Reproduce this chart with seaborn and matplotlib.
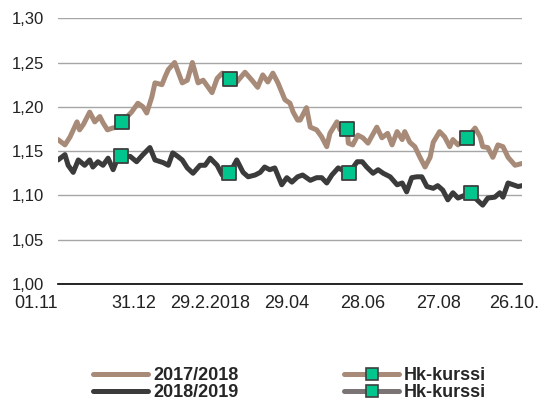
import numpy as np
import pandas as pd
import matplotlib
matplotlib.use("Agg")
import matplotlib.pyplot as plt
import seaborn as sns
from matplotlib.lines import Line2D
from matplotlib.ticker import FuncFormatter

# days from 01.11 and exchange rate readings
days_1718 = [0, 5.5, 9.5, 15, 17, 20, 25, 29, 33, 35.5, 39, 43, 46.5, 50.5, 58, 63, 67, 70,
             74, 76.5, 82, 84.5, 87, 92, 98, 102, 106, 110.5, 114.5, 121.5, 125.5, 129.5,
             135.5, 141, 147.5, 153, 157.5, 161.5, 165.5, 169.5, 173.5, 179, 183, 185.5,
             189, 191, 196, 199, 204, 208, 212, 214.5, 220, 222.5, 228, 229, 232.5, 236.5,
             240.5, 244.5, 251.5, 255.5, 260, 263.5, 267.5, 271.5, 273.5, 277.5, 281.5,
             285.5, 289.5, 293.5, 296, 301, 305, 309, 311.5, 315.5, 322.5, 329, 333, 335,
             339, 343, 347, 351, 355, 360.5, 366]
rate_1718 = [1.163, 1.157, 1.166, 1.183, 1.174, 1.180, 1.194, 1.183, 1.189, 1.182, 1.174,
             1.176, 1.177, 1.183, 1.194, 1.204, 1.200, 1.193, 1.211, 1.227, 1.225, 1.234,
             1.242, 1.250, 1.227, 1.230, 1.250, 1.227, 1.230, 1.216, 1.232, 1.238, 1.231,
             1.228, 1.239, 1.230, 1.222, 1.236, 1.228, 1.238, 1.227, 1.208, 1.204, 1.194,
             1.185, 1.185, 1.199, 1.177, 1.174, 1.166, 1.155, 1.170, 1.183, 1.174, 1.175,
             1.159, 1.157, 1.168, 1.165, 1.159, 1.177, 1.165, 1.170, 1.157, 1.172, 1.163,
             1.172, 1.160, 1.155, 1.143, 1.132, 1.143, 1.160, 1.172, 1.166, 1.155, 1.163,
             1.157, 1.165, 1.176, 1.166, 1.155, 1.154, 1.143, 1.157, 1.155, 1.143, 1.134,
             1.136]

days_1819 = [0, 5.5, 8, 12, 16, 21, 25, 27.5, 31.5, 35.5, 39.5, 43.5, 46.5, 49.5, 57, 62,
             67, 72.5, 76.5, 83, 87, 90.5, 94.5, 98, 102, 106.5, 112, 116, 120, 125.5,
             129.5, 135, 141, 146, 150, 155.5, 159.5, 163, 167, 171, 176.5, 180.5, 184.5,
             189, 193, 199, 204, 208, 212, 216, 221, 229.5, 236, 240, 243.5, 248.5, 252.5,
             256.5, 262, 267.5, 271.5, 275, 279, 283, 287, 291, 296, 299.5, 303.5, 307.5,
             311.5, 315.5, 325.5, 330.5, 335, 339, 344.5, 348.5, 351, 355, 359, 363, 366]
rate_1819 = [1.140, 1.146, 1.134, 1.126, 1.140, 1.134, 1.140, 1.132, 1.138, 1.134, 1.142,
             1.129, 1.140, 1.144, 1.144, 1.138, 1.146, 1.154, 1.140, 1.137, 1.134, 1.148,
             1.144, 1.140, 1.131, 1.125, 1.134, 1.134, 1.142, 1.134, 1.123, 1.124, 1.140,
             1.126, 1.121, 1.123, 1.126, 1.132, 1.129, 1.131, 1.112, 1.120, 1.115, 1.121,
             1.123, 1.117, 1.120, 1.120, 1.114, 1.123, 1.131, 1.125, 1.138, 1.138, 1.132,
             1.125, 1.129, 1.125, 1.121, 1.112, 1.114, 1.104, 1.120, 1.121, 1.121, 1.110,
             1.108, 1.111, 1.106, 1.095, 1.103, 1.097, 1.103, 1.095, 1.089, 1.097, 1.098,
             1.103, 1.098, 1.114, 1.112, 1.110, 1.111]

# Hk-kurssi points
hk_days_1718 = [50.5, 135.5, 228, 322.5]
hk_rate_1718 = [1.183, 1.231, 1.175, 1.165]
hk_days_1819 = [49.5, 135, 229.5, 325.5]
hk_rate_1819 = [1.144, 1.125, 1.125, 1.103]

tick_days = [0, 60, 120, 180, 240, 300, 360]
tick_labels = ["01.11", "31.12", "29.2.2018", "29.04", "28.06", "27.08", "26.10."]

brown = "#A88A78"
dark = "#3B3B3B"
green = "#00C58C"
gray_line = "#7A7474"

sns.set_style("white")
plt.rcParams['font.family'] = ['Liberation Sans', 'DejaVu Sans']

fig = plt.figure(figsize=(5.47, 4.03), dpi=100)
ax = fig.add_axes([58 / 547, 1 - 284 / 403, 464 / 547, (284 - 18.2) / 403])

df1 = pd.DataFrame({"day": days_1718, "rate": rate_1718})
df2 = pd.DataFrame({"day": days_1819, "rate": rate_1819})
sns.lineplot(data=df1, x="day", y="rate", ax=ax, color=brown, lw=3.6, solid_joinstyle="round")
sns.lineplot(data=df2, x="day", y="rate", ax=ax, color=dark, lw=3.6, solid_joinstyle="round")

hk1 = pd.DataFrame({"day": hk_days_1718, "rate": hk_rate_1718})
hk2 = pd.DataFrame({"day": hk_days_1819, "rate": hk_rate_1819})
for d in (hk1, hk2):
    sns.scatterplot(data=d, x="day", y="rate", ax=ax, marker="s", s=110, color=green,
                    edgecolor="#3F3F3F", linewidth=1.3, zorder=5)

ax.set_xlim(0, 366)
ax.set_ylim(1.00, 1.30)
ax.set_yticks(np.arange(1.00, 1.31, 0.05))
ax.yaxis.set_major_formatter(FuncFormatter(lambda v, p: f"{v:.2f}".replace(".", ",")))
ax.set_xticks(tick_days)
ax.set_xticklabels(tick_labels)
ax.get_xticklabels()[0].set_ha("right")
ax.grid(axis="y", color="#A6A6A6", lw=1)
ax.set_axisbelow(True)
for s in ["top", "right", "left"]:
    ax.spines[s].set_visible(False)
ax.spines["bottom"].set_color("black")
ax.spines["bottom"].set_linewidth(1.2)
ax.tick_params(axis="both", length=0, colors="#222222")
ax.tick_params(axis="y", pad=10, labelsize=12)
ax.tick_params(axis="x", pad=8, labelsize=13)
ax.set_xlabel("")
ax.set_ylabel("")

handles = [
    Line2D([], [], color=brown, lw=3.6),
    Line2D([], [], color=dark, lw=3.6),
    Line2D([], [], color=brown, lw=3.6, marker="s", ms=8, mfc=green, mec="#3F3F3F", mew=1.2),
    Line2D([], [], color=gray_line, lw=3.6, marker="s", ms=8, mfc=green, mec="#3F3F3F", mew=1.2),
]
labels = ["2017/2018", "2018/2019", "Hk-kurssi", "Hk-kurssi"]
fig.legend(handles, labels, loc="center left", bbox_to_anchor=(93 / 547, 1 - 384 / 403), ncol=2,
           frameon=False, prop={"weight": "bold", "size": 13}, handlelength=3.05,
           handletextpad=0.28, columnspacing=5.85, labelspacing=0.02, borderaxespad=0,
           borderpad=0)

fig.savefig("out.png", dpi=100)
